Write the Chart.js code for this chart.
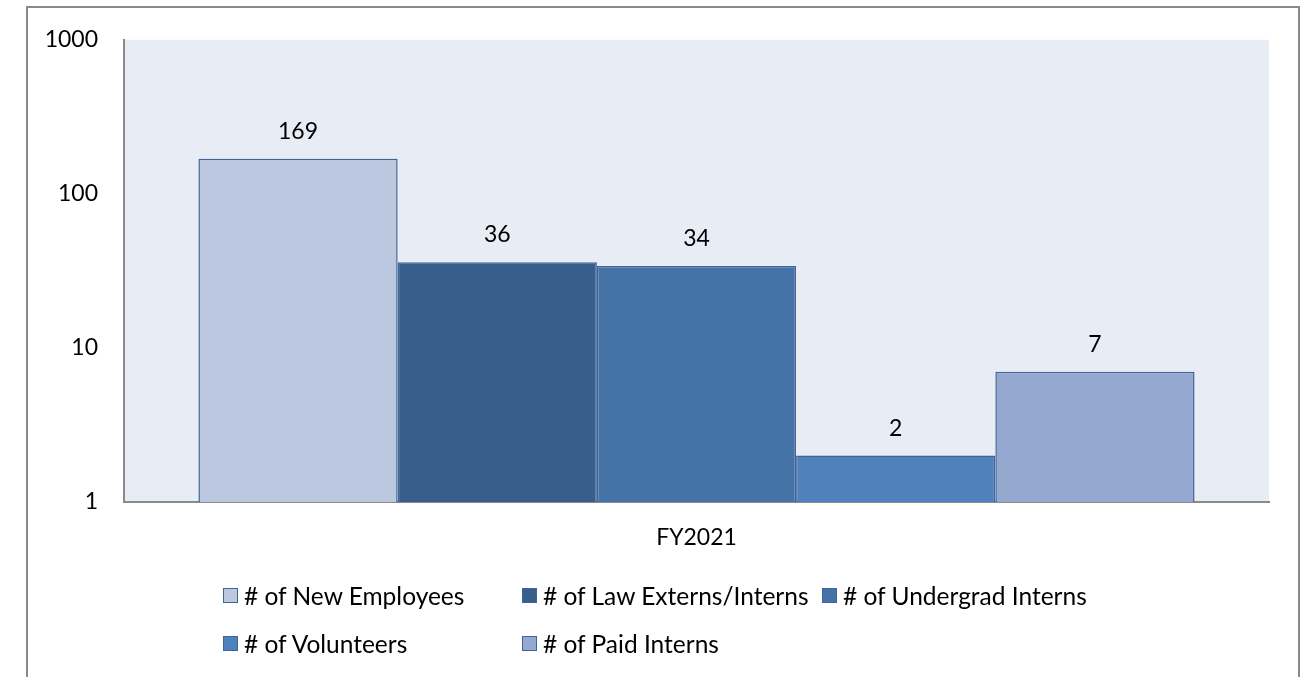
<!DOCTYPE html>
<html>
<head>
<meta charset="utf-8">
<script src="https://cdn.jsdelivr.net/npm/chart.js@4.4.1/dist/chart.umd.min.js"></script>
<style>
	body { margin: 0; background: #fff; font-family: Lato, 'Open Sans', sans-serif; }
	#wrap { position: relative; width: 1304px; height: 677px; overflow: hidden; }
	#frame { position: absolute; left: 26px; top: 6px; width: 1270px; height: 700px; border: 2px solid #8a8a8a; pointer-events: none; }
	#legend { position: absolute; left: 223px; top: 580px; display: grid; grid-template-columns: 299px 300px 300px; row-gap: 18px; font-size: 24.5px; color: #000; }
	.item { display: flex; align-items: center; height: 30px; white-space: nowrap; }
	.box { width: 13px; height: 13px; margin-right: 6px; border: 1.5px solid #3f6598; }
</style>
</head>
<body>
<div id="wrap">
	<canvas id="staffChart" width="1304" height="677"></canvas>
	<div id="frame"></div>
	<div id="legend"></div>
</div>
<script>
var categories = ['FY2021'];
var seriesNames = [
	'# of New Employees',
	'# of Law Externs/Interns',
	'# of Undergrad Interns',
	'# of Volunteers',
	'# of Paid Interns',
];
var newEmployees = [169];
var lawExterns = [36];
var undergradInterns = [34];
var volunteers = [2];
var paidInterns = [7];
var yTicks = [1, 10, 100, 1000];
var colors = ['#bcc8e0', '#3a5e8c', '#4573a8', '#4f81bd', '#95a9d0'];
var seriesValues = [newEmployees, lawExterns, undergradInterns, volunteers, paidInterns];

var plotBg = {
	id: 'plotBg',
	beforeDraw: function (chart) {
		var a = chart.chartArea;
		var ctx = chart.ctx;
		ctx.save();
		ctx.fillStyle = '#e8ecf4';
		ctx.fillRect(a.left, a.top, a.right - a.left, a.bottom - a.top);
		ctx.restore();
	},
};

var valueLabels = {
	id: 'valueLabels',
	afterDatasetsDraw: function (chart) {
		var ctx = chart.ctx;
		ctx.save();
		ctx.font = '23px Lato, "Open Sans", sans-serif';
		ctx.fillStyle = '#000';
		ctx.textAlign = 'center';
		ctx.textBaseline = 'alphabetic';
		chart.data.datasets.forEach(function (ds, i) {
			chart.getDatasetMeta(i).data.forEach(function (bar, j) {
				ctx.fillText(ds.data[j], bar.x, bar.y - 20);
			});
		});
		ctx.restore();
	},
};

var staffChart = new Chart(document.getElementById('staffChart'), {
	type: 'bar',
	data: {
		labels: categories,
		datasets: seriesNames.map(function (name, i) {
			return {
				label: name,
				data: seriesValues[i],
				backgroundColor: colors[i],
				borderColor: '#3f6598',
				borderWidth: 1.5,
				categoryPercentage: 0.87,
				barPercentage: 1,
			};
		}),
	},
	options: {
		responsive: false,
		animation: false,
		layout: {
			padding: { left: 0, top: 37, right: 35, bottom: 0 },
		},
		plugins: {
			legend: { display: false },
			tooltip: { enabled: false },
		},
		scales: {
			x: {
				grid: { display: false, drawTicks: false },
				border: { display: true, color: '#8a8a8a', width: 2 },
				ticks: {
					padding: 22,
					color: '#000',
					font: { family: 'Lato', size: 23 },
				},
				afterFit: function (scale) {
					scale.height = 175;
				},
			},
			y: {
				type: 'logarithmic',
				min: 1,
				max: 1000,
				grid: { display: false, drawTicks: false },
				border: { display: true, color: '#8a8a8a', width: 2 },
				afterBuildTicks: function (scale) {
					scale.ticks = yTicks.map(function (v) {
						return { value: v };
					});
				},
				ticks: {
					padding: 26,
					color: '#000',
					font: { family: 'Lato', size: 23 },
					callback: function (v) {
						return String(v);
					},
				},
				afterFit: function (scale) {
					scale.width = 124;
				},
			},
		},
	},
	plugins: [plotBg, valueLabels],
});

// legend laid out in a grid like the original
var legendEl = document.getElementById('legend');
seriesNames.forEach(function (name, i) {
	var item = document.createElement('div');
	item.className = 'item';
	var box = document.createElement('span');
	box.className = 'box';
	box.style.background = colors[i];
	item.appendChild(box);
	item.appendChild(document.createTextNode(name));
	legendEl.appendChild(item);
});
</script>
</body>
</html>
